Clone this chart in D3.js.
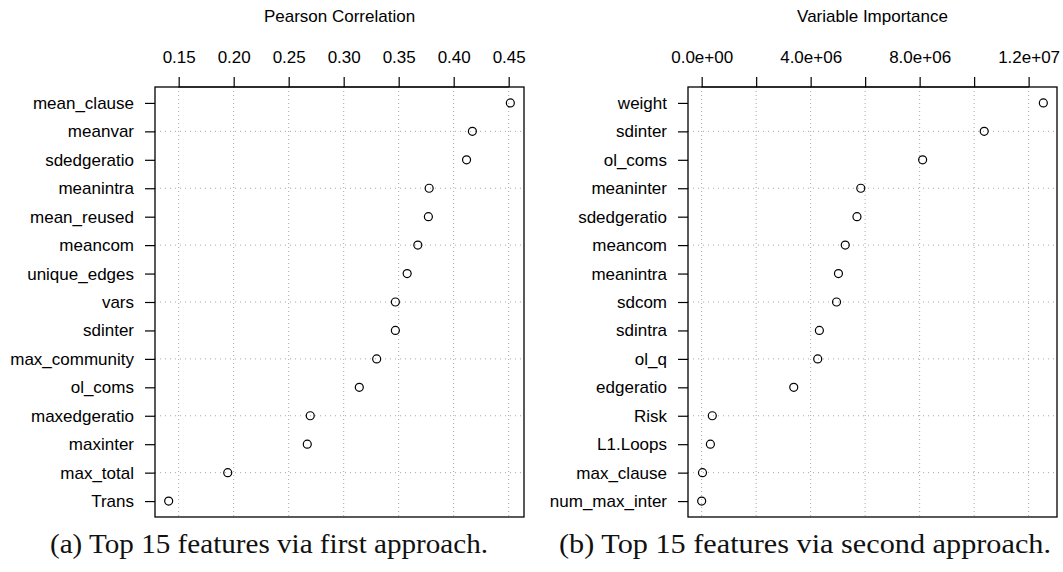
<!DOCTYPE html>
<html>
<head>
<meta charset="utf-8">
<script src="https://cdn.jsdelivr.net/npm/d3@7"></script>
<style>
  html, body { margin: 0; padding: 0; background: #fff; }
  svg { display: block; }
</style>
</head>
<body>
<svg id="chart" width="1063" height="572"></svg>
<script>
// ---------------- DATA ----------------
const leftFeatures = ["mean_clause","meanvar","sdedgeratio","meanintra","mean_reused","meancom","unique_edges","vars","sdinter","max_community","ol_coms","maxedgeratio","maxinter","max_total","Trans"];
const leftValues   = [0.4515, 0.4170, 0.4117, 0.3777, 0.3770, 0.3674, 0.3577, 0.3470, 0.3470, 0.3300, 0.3142, 0.2696, 0.2669, 0.1946, 0.1409];
const leftTicks    = [0.15, 0.20, 0.25, 0.30, 0.35, 0.40, 0.45];
const leftTickLabels = ["0.15","0.20","0.25","0.30","0.35","0.40","0.45"];
const leftTitle    = "Pearson Correlation";
const leftCaption  = "(a) Top 15 features via first approach.";

const rightFeatures = ["weight","sdinter","ol_coms","meaninter","sdedgeratio","meancom","meanintra","sdcom","sdintra","ol_q","edgeratio","Risk","L1.Loops","max_clause","num_max_inter"];
const rightValues   = [12.54e6, 10.37e6, 8.11e6, 5.84e6, 5.70e6, 5.27e6, 5.02e6, 4.95e6, 4.32e6, 4.26e6, 3.38e6, 0.39e6, 0.32e6, 0.03e6, 0.0];
const rightTicks    = [0, 2e6, 4e6, 6e6, 8e6, 10e6, 12e6];
const rightTickLabels = ["0.0e+00", "", "4.0e+06", "", "8.0e+06", "", "1.2e+07"];
const rightTitle    = "Variable Importance";
const rightCaption  = "(b) Top 15 features via second approach.";

// ---------------- DRAW ----------------
const svg = d3.select("#chart");
const sansFont = "'Liberation Sans', Arial, Helvetica, sans-serif";
const serifFont = "'Liberation Serif', 'DejaVu Serif', serif";

function panel(cfg) {
  const { x0, x1, y0, y1, features, values, ticks, tickLabels, title, caption, captionX, captionWidth } = cfg;
  const g = svg.append("g");

  // R-style 4% range extension
  const [mn, mx] = d3.extent(values);
  const pad = (mx - mn) * 0.04;
  const x = d3.scaleLinear().domain([mn - pad, mx + pad]).range([x0, x1]);
  const n = features.length;
  const ypad = (n - 1) * 0.04;
  const y = d3.scaleLinear().domain([-ypad, n - 1 + ypad]).range([y0, y1]);

  // vertical grid lines at ticks
  g.selectAll("line.vgrid").data(ticks).join("line")
    .attr("x1", d => x(d)).attr("x2", d => x(d))
    .attr("y1", y0).attr("y2", y1)
    .attr("stroke", "#a8a8a8").attr("stroke-width", 1)
    .attr("stroke-dasharray", "1,3");

  // horizontal grid lines on alternating rows
  const hRows = d3.range(1, n, 2);
  g.selectAll("line.hgrid").data(hRows).join("line")
    .attr("x1", x0).attr("x2", x1)
    .attr("y1", d => y(d)).attr("y2", d => y(d))
    .attr("stroke", "#a8a8a8").attr("stroke-width", 1)
    .attr("stroke-dasharray", "1,4");

  // top axis
  const topAxis = d3.axisTop(x).tickValues(ticks)
    .tickFormat((d, i) => tickLabels[i]).tickSize(10).tickPadding(14);
  const ta = g.append("g").attr("transform", `translate(0,${y0})`).call(topAxis);
  ta.select(".domain").attr("d", `M${x(ticks[0])},0H${x(ticks[ticks.length-1])}`).attr("stroke", "#000").attr("stroke-width", 1.2);
  ta.selectAll(".tick line").attr("stroke", "#000").attr("stroke-width", 1.2);
  ta.selectAll(".tick text").attr("font-family", sansFont).attr("font-size", 17).attr("fill", "#000");

  // left axis with feature names
  const leftAxis = d3.axisLeft(y).tickValues(d3.range(n))
    .tickFormat(i => features[i]).tickSize(10).tickPadding(11);
  const la = g.append("g").attr("transform", `translate(${x0},0)`).call(leftAxis);
  la.select(".domain").remove();
  la.selectAll(".tick line").attr("stroke", "#000").attr("stroke-width", 1.2);
  la.selectAll(".tick text").attr("font-family", sansFont).attr("font-size", 17).attr("fill", "#000");

  // box
  g.append("rect").attr("x", x0).attr("y", y0).attr("width", x1 - x0).attr("height", y1 - y0)
    .attr("fill", "none").attr("stroke", "#000").attr("stroke-width", 1.3);

  // points
  g.selectAll("circle.pt").data(values).join("circle")
    .attr("cx", d => x(d)).attr("cy", (d, i) => y(i)).attr("r", 4)
    .attr("fill", "none").attr("stroke", "#000").attr("stroke-width", 1.2);

  // title
  g.append("text").attr("x", (x0 + x1) / 2).attr("y", 22)
    .attr("text-anchor", "middle").attr("font-family", sansFont).attr("font-size", 17)
    .attr("fill", "#000").text(title);

  // caption
  g.append("text").attr("x", captionX).attr("y", 553)
    .attr("text-anchor", "middle").attr("font-family", serifFont).attr("font-size", 28)
    .attr("textLength", captionWidth).attr("lengthAdjust", "spacingAndGlyphs")
    .attr("fill", "#111").text(caption);
}

panel({ x0: 155, x1: 524, y0: 87, y1: 517, features: leftFeatures, values: leftValues,
        ticks: leftTicks, tickLabels: leftTickLabels, title: leftTitle, caption: leftCaption,
        captionX: 269, captionWidth: 438 });
panel({ x0: 688, x1: 1057, y0: 87, y1: 517, features: rightFeatures, values: rightValues,
        ticks: rightTicks, tickLabels: rightTickLabels, title: rightTitle, caption: rightCaption,
        captionX: 805, captionWidth: 492 });
</script>
</body>
</html>
